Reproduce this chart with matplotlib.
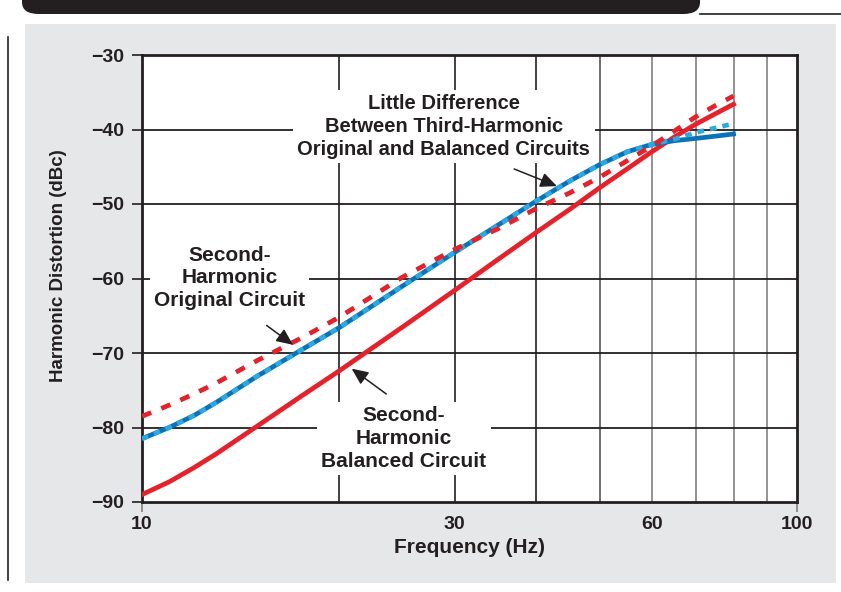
import numpy as np
import matplotlib.pyplot as plt
from matplotlib.patches import FancyBboxPatch, Rectangle
from matplotlib.lines import Line2D

freq = [10, 11, 12, 13, 15, 17.5, 20, 25, 30, 35, 40, 45, 50, 55, 60, 65, 70, 75, 80]
third_orig = [-81.5, -80.0, -78.4, -76.6, -73.1, -69.6, -66.6, -61.0, -56.5, -52.8, -49.6, -46.9,
              -44.7, -43.0, -42.0, -41.5, -41.2, -40.9, -40.6]
third_bal = [-81.5, -80.0, -78.4, -76.6, -73.1, -69.6, -66.6, -61.0, -56.5, -52.8, -49.6, -46.9,
             -44.7, -43.0, -42.0, -41.3, -40.4, -39.8, -39.2]
second_orig = [-78.5, -77.0, -75.5, -74.0, -71.0, -68.0, -65.2, -59.8, -56.1, -53.3, -50.6, -48.5,
               -46.4, -44.2, -42.2, -40.2, -38.3, -36.8, -35.5]
second_bal = [-89.0, -87.3, -85.4, -83.5, -79.8, -75.8, -72.4, -66.5, -61.6, -57.4, -53.8, -50.7,
              -47.8, -45.3, -43.0, -41.0, -39.3, -37.9, -36.6]

xticks = [10, 30, 60, 100]
yticks = [-30, -40, -50, -60, -70, -80, -90]

RED = '#E8202A'
DBLUE = '#0A72BA'
LBLUE = '#2BAAE2'
INK = '#231F20'

plt.rcParams['font.family'] = ['Liberation Sans', 'DejaVu Sans']
fig = plt.figure(figsize=(8.41, 5.92), dpi=100)
W, H = 841, 592

def fx(px):
    return px / W
def fy(py):
    return 1 - py / H

# grey panel
fig.patches.append(Rectangle((fx(25), fy(583)), (836 - 25) / W, (583 - 24) / H,
                             transform=fig.transFigure, facecolor='#E6E7E8', edgecolor='none', zorder=-5))
# top black band
fig.patches.append(FancyBboxPatch((fx(22), fy(14)), (700 - 22) / W, 30 / H,
                                  boxstyle='round,pad=0,rounding_size=0.02',
                                  transform=fig.transFigure, facecolor=INK, edgecolor='none', zorder=-4))
fig.lines.append(Line2D([fx(700), 1], [fy(14), fy(14)], transform=fig.transFigure, color=INK, lw=1.2, zorder=-4))
# left vertical rule
fig.lines.append(Line2D([fx(8), fx(8)], [fy(37), fy(580)], transform=fig.transFigure, color=INK, lw=1.2, zorder=-4))

ax = fig.add_axes([fx(142), fy(502), (797 - 142) / W, (502 - 55) / H])
ax.set_zorder(5)
ax.set_facecolor('white')
ax.set_xscale('log')
ax.set_xlim(10, 100)
ax.set_ylim(-90, -30)

# grid
for g in [20, 30, 40, 50, 60, 70, 80, 90]:
    c = INK if g in (20, 30, 40) else ('#555555' if g == 50 else '#808080')
    ax.axvline(g, color=c, lw=1.2, zorder=1)
for g in yticks[1:-1]:
    ax.axhline(g, color=INK, lw=1.3, zorder=1)

ax.plot(freq, second_bal, color=RED, lw=3.4, zorder=3)
ax.plot(freq, third_orig, color=DBLUE, lw=3.4, zorder=3)
ax.plot(freq, third_bal, color=LBLUE, lw=3.4, ls=(0, (1.4, 1.3)), zorder=4, dash_capstyle='butt')
ax.plot(freq, second_orig, color=RED, lw=3.4, ls=(0, (2.1, 2.3)), zorder=4, dash_capstyle='butt')

ax.set_xticks(xticks)
ax.set_xticklabels([str(t) for t in xticks])
ax.xaxis.set_minor_locator(plt.NullLocator())
ax.set_yticks(yticks)
ax.set_yticklabels(['\u2212' + str(-t) for t in yticks])
ax.tick_params(axis='y', direction='out', length=7, width=1.2, color=INK, pad=6,
               labelsize=14, labelcolor=INK)
ax.tick_params(axis='x', direction='out', length=7, width=1.2, color='#808080', pad=3,
               labelsize=14, labelcolor=INK)
xt = ax.xaxis.get_major_ticks()
xt[1].tick1line.set_visible(False)
xt[2].tick1line.set_visible(False)
for lab in ax.get_xticklabels() + ax.get_yticklabels():
    lab.set_fontweight('bold')
for s in ax.spines.values():
    s.set_color(INK)
    s.set_linewidth(2)

ax.set_xlabel('Frequency (Hz)', fontsize=15, fontweight='bold', color=INK, labelpad=4)
ax.set_ylabel('Harmonic Distortion (dBc)', fontsize=13.5, fontweight='bold', color=INK)
ax.yaxis.set_label_coords(-0.114, 0.528)

bbox = dict(facecolor='white', edgecolor='none', pad=3)
tkw = dict(ha='center', va='center', fontweight='bold', color=INK,
           linespacing=1.25, bbox=bbox, zorder=6)
ax.text(28.9, -39.6, 'Little Difference\nBetween Third-Harmonic\nOriginal and Balanced Circuits',
        fontsize=14.5, **tkw)
ax.text(13.6, -59.9, 'Second-\nHarmonic\nOriginal Circuit', fontsize=15, **tkw)
ax.text(25.1, -81.5, 'Second-\nHarmonic\nBalanced Circuit', fontsize=15, **tkw)

arrowprops = dict(arrowstyle='-|>,head_length=1.0,head_width=0.45', color=INK, lw=1.1,
                  shrinkA=0, shrinkB=0)
ax.annotate('', xy=(43.0, -47.6), xytext=(37.0, -45.3), arrowprops=arrowprops, zorder=7)
ax.annotate('', xy=(17.0, -68.9), xytext=(15.5, -66.3), arrowprops=arrowprops, zorder=7)
ax.annotate('', xy=(20.9, -72.1), xytext=(23.6, -75.5), arrowprops=arrowprops, zorder=7)

fig.savefig('out.png', dpi=100)
